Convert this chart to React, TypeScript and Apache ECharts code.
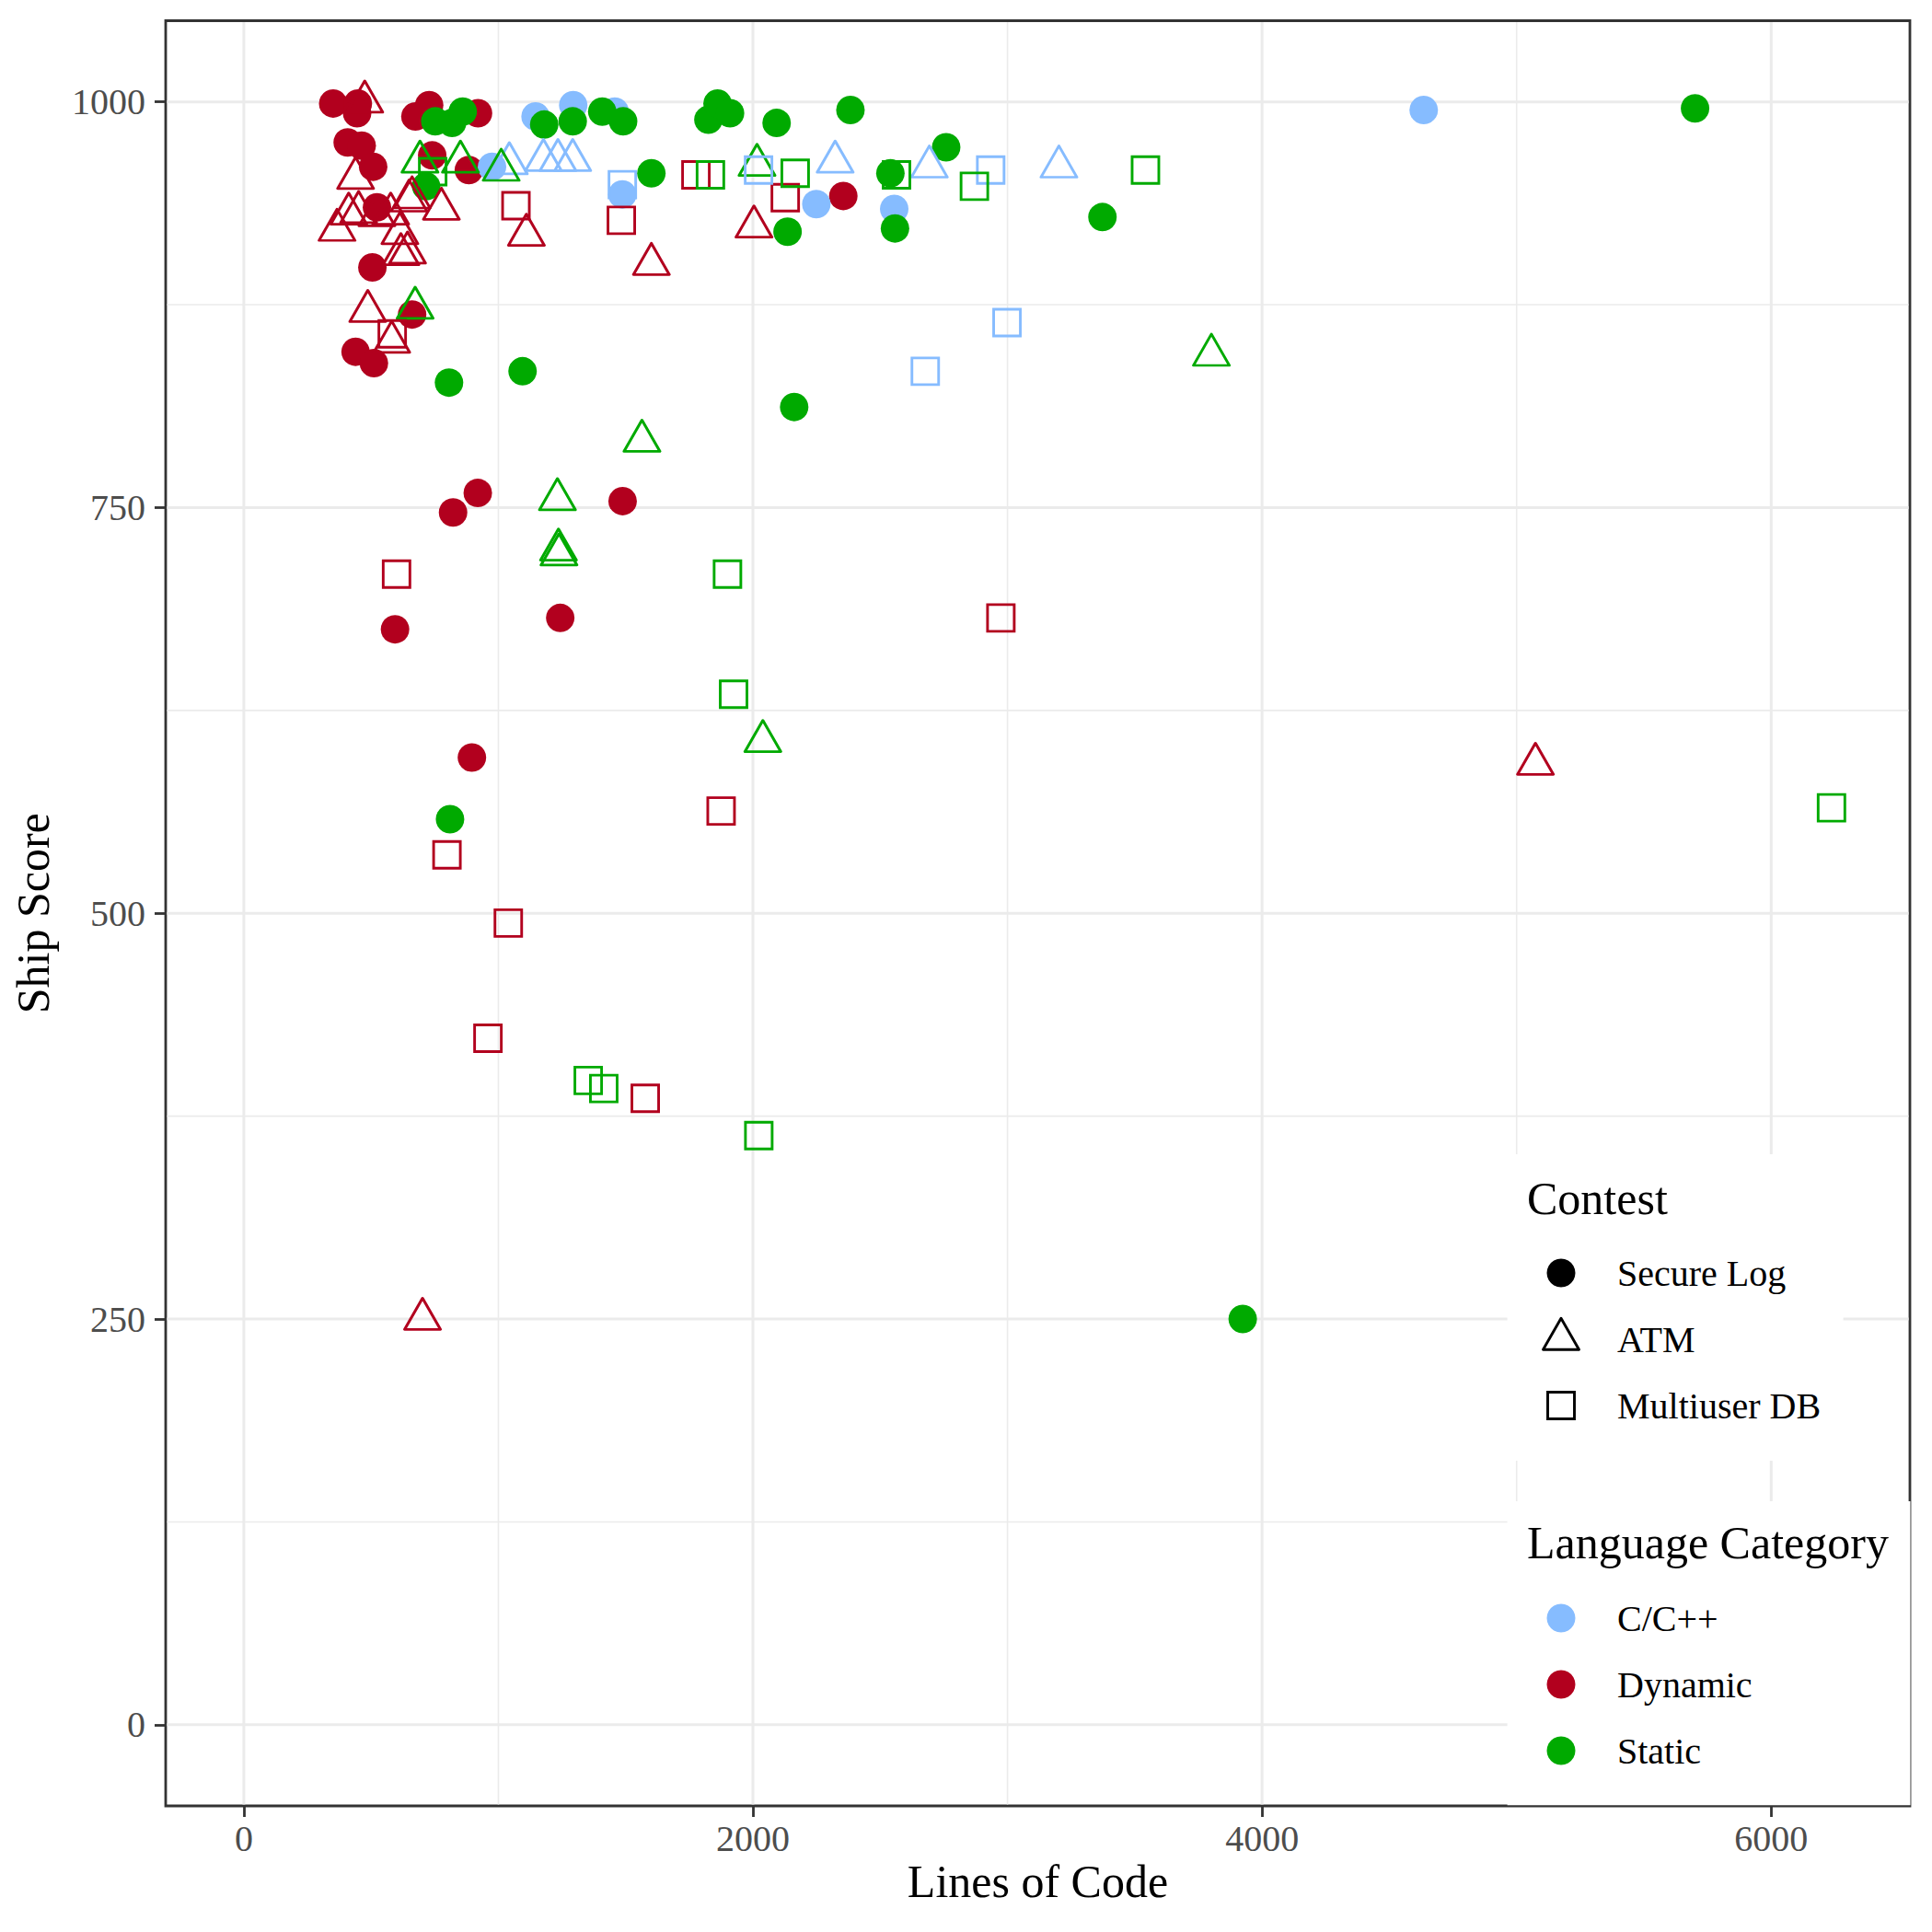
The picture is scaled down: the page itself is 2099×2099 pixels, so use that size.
import React, { useEffect, useRef } from "react";
import * as echarts from "echarts";

// ---------- data (Lines of Code, Ship Score) ----------
const SECURE_LOG_CPP: number[][] = [
  [1146, 991], [1294, 998], [1457, 994], [975, 960], [1487, 943], [2249, 937], [2555, 934], [4635, 995],
];
const SECURE_LOG_DYNAMIC: number[][] = [
  [351, 999], [448, 999], [445, 993], [728, 998], [674, 991], [920, 993], [408, 975], [463, 973],
  [508, 960], [740, 967], [884, 958], [523, 935], [505, 898], [661, 869], [439, 846], [511, 839],
  [2355, 942], [919, 759], [822, 747], [1488, 754], [1243, 682], [594, 675], [896, 596],
];
const SECURE_LOG_STATIC: number[][] = [
  [752, 988], [818, 987], [860, 994], [716, 948], [1180, 986], [1292, 988], [1408, 994], [1490, 988],
  [1601, 956], [1825, 989], [1861, 999], [1910, 993], [2093, 987], [2383, 995], [2759, 972], [2540, 956],
  [2558, 922], [2136, 920], [3373, 929], [2162, 812], [5701, 996], [3924, 250], [1095, 834], [806, 827],
  [810, 558],
];
const ATM_DYNAMIC: number[][] = [
  [475, 1000], [439, 953], [451, 932], [412, 931], [366, 921], [577, 931], [661, 941], [649, 939],
  [776, 934], [613, 919], [617, 906], [643, 907], [523, 930], [487, 871], [581, 852], [1110, 918],
  [1601, 900], [2004, 923], [5074, 592], [702, 250],
];
const ATM_CPP: number[][] = [
  [1043, 962], [1177, 964], [1234, 964], [1292, 964], [2323, 963], [2693, 960], [3202, 960],
];
const ATM_STATIC: number[][] = [
  [692, 963], [851, 963], [1011, 958], [673, 873], [2016, 961], [1564, 791], [1232, 755], [1236, 724],
  [1238, 721], [2039, 606], [3801, 844],
];
const MDB_DYNAMIC: number[][] = [
  [1069, 936], [1483, 927], [1776, 955], [583, 857], [2127, 941], [600, 709], [1875, 563], [798, 536],
  [1039, 494], [959, 423], [1577, 386], [2974, 682],
];
const MDB_CPP: number[][] = [
  [1487, 949], [2022, 958], [2934, 958], [2998, 864], [2677, 834],
];
const MDB_STATIC: number[][] = [
  [742, 957], [1833, 955], [2166, 956], [2564, 955], [2870, 948], [3542, 958], [1900, 709], [1924, 635],
  [1353, 397], [1414, 392], [2023, 363], [6237, 565],
];

// ---------- axes ----------
const X_TICKS = [0, 2000, 4000, 6000];
const X_MINOR = [1000, 3000, 5000];
const Y_TICKS = [0, 250, 500, 750, 1000];
const Y_MINOR = [125, 375, 625, 875];
const X_RANGE = [-307, 6545];
const Y_RANGE = [-50, 1050];

const CONTESTS = ["Secure Log", "ATM", "Multiuser DB"];
const LANGUAGES = ["C/C++", "Dynamic", "Static"];
const COLORS: Record<string, string> = { "C/C++": "#86BCFF", Dynamic: "#B2001E", Static: "#00AA00" };

const FONT = "'Liberation Serif', 'Times New Roman', Times, serif";

function scatter(contest: string, lang: string, data: number[][]) {
  const color = COLORS[lang];
  const base: any = {
    type: "scatter",
    name: contest + " / " + lang,
    data,
    z: 3,
    emphasis: { disabled: true },
  };
  if (contest === "Secure Log") {
    return { ...base, symbol: "circle", symbolSize: 31, itemStyle: { color, borderWidth: 0, opacity: 1 } };
  }
  if (contest === "ATM") {
    return {
      ...base,
      symbol: "triangle",
      symbolSize: [39, 34],
      symbolOffset: [0, -5.7],
      itemStyle: { color: "rgba(0,0,0,0)", borderColor: color, borderWidth: 2.9, borderJoin: "round", opacity: 1 },
    };
  }
  return {
    ...base,
    symbol: "rect",
    symbolSize: 29,
    itemStyle: { color: "rgba(0,0,0,0)", borderColor: color, borderWidth: 2.9, opacity: 1 },
  };
}

const gridLineData = [
  ...X_MINOR.map((v) => [v, 0, 1]),
  ...Y_MINOR.map((v) => [0, v, 3]),
  ...X_TICKS.map((v) => [v, 0, 0]),
  ...Y_TICKS.map((v) => [0, v, 2]),
];

function legendText(text: string, x: number, y: number, size: number) {
  return {
    type: "text",
    z: 101,
    x,
    y,
    style: {
      text,
      fill: "#000000",
      fontSize: size,
      fontFamily: FONT,
      align: "left",
      verticalAlign: "middle",
      textAlign: "left",
      textVerticalAlign: "middle",
    },
  };
}

function buildGraphic() {
  const kx = 1696;
  const lx = 1757;
  const contestRows = [1383, 1455, 1527];
  const langRows = [1758, 1830, 1902];
  const els: any[] = [
    { type: "rect", z: 100, shape: { x: 1637.6, y: 1254, width: 365, height: 333 }, style: { fill: "#ffffff" } },
    { type: "rect", z: 100, shape: { x: 1637.6, y: 1631, width: 437.9, height: 330.2 }, style: { fill: "#ffffff" } },
    legendText("Contest", 1659, 1302, 50),
    legendText("Language Category", 1659, 1676, 50),
    { type: "circle", z: 101, shape: { cx: kx, cy: contestRows[0], r: 15.5 }, style: { fill: "#000000" } },
    {
      type: "polygon",
      z: 101,
      shape: { points: [[kx, contestRows[1] - 22.7], [kx + 19.5, contestRows[1] + 11.3], [kx - 19.5, contestRows[1] + 11.3]] },
      style: { fill: "none", stroke: "#000000", lineWidth: 2.9, lineJoin: "round" },
    },
    {
      type: "rect",
      z: 101,
      shape: { x: kx - 14.5, y: contestRows[2] - 14.5, width: 29, height: 29 },
      style: { fill: "none", stroke: "#000000", lineWidth: 2.9 },
    },
  ];
  CONTESTS.forEach((c, i) => els.push(legendText(c, lx, contestRows[i], 40)));
  LANGUAGES.forEach((l, i) => {
    els.push({ type: "circle", z: 101, shape: { cx: kx, cy: langRows[i], r: 15.5 }, style: { fill: COLORS[l] } });
    els.push(legendText(l, lx, langRows[i], 40));
  });
  return els;
}

const axisLabelStyle = { color: "#4D4D4D", fontSize: 40, fontFamily: FONT };
const tickStyle = { color: "#333333", width: 2.8 };

const option: any = {
  animation: false,
  backgroundColor: "#ffffff",
  grid: {
    left: 180,
    right: 24,
    top: 22.5,
    bottom: 137,
    show: true,
    backgroundColor: "#ffffff",
    borderColor: "#333333",
    borderWidth: 2.8,
    containLabel: false,
    outerBoundsMode: "none",
  },
  xAxis: {
    type: "value",
    min: X_RANGE[0],
    max: X_RANGE[1],
    name: "Lines of Code",
    nameLocation: "middle",
    nameGap: 82,
    nameMoveOverlap: false,
    nameTextStyle: { color: "#000000", fontSize: 50, fontFamily: FONT, verticalAlign: "middle" },
    axisLine: { show: false, onZero: false },
    axisTick: { show: true, length: 12, lineStyle: tickStyle, customValues: X_TICKS },
    axisLabel: { ...axisLabelStyle, margin: 15, customValues: X_TICKS, formatter: (v: number) => String(v) },
    splitLine: { show: false },
    minorTick: { show: false },
  },
  yAxis: {
    type: "value",
    min: Y_RANGE[0],
    max: Y_RANGE[1],
    name: "Ship Score",
    nameLocation: "middle",
    nameGap: 144,
    nameMoveOverlap: false,
    nameTextStyle: { color: "#000000", fontSize: 50, fontFamily: FONT, verticalAlign: "middle" },
    axisLine: { show: false, onZero: false },
    axisTick: { show: true, length: 12, lineStyle: tickStyle, customValues: Y_TICKS },
    axisLabel: { ...axisLabelStyle, margin: 22, customValues: Y_TICKS, formatter: (v: number) => String(v) },
    splitLine: { show: false },
  },
  series: [
    {
      type: "custom",
      name: "grid lines",
      data: gridLineData,
      z: 1,
      silent: true,
      clip: true,
      renderItem: (params: any, api: any) => {
        const cs = params.coordSys;
        const kind = api.value(2);
        const p = api.coord([api.value(0), api.value(1)]);
        const w = kind % 2 === 0 ? 3 : 1.6;
        if (kind < 2) {
          return {
            type: "line",
            shape: { x1: p[0], y1: cs.y + 1.4, x2: p[0], y2: cs.y + cs.height - 1.4 },
            style: { stroke: "#EBEBEB", lineWidth: w },
          };
        }
        return {
          type: "line",
          shape: { x1: cs.x + 1.4, y1: p[1], x2: cs.x + cs.width - 1.4, y2: p[1] },
          style: { stroke: "#EBEBEB", lineWidth: w },
        };
      },
    },
    scatter("Secure Log", "Dynamic", SECURE_LOG_DYNAMIC),
    scatter("Secure Log", "C/C++", SECURE_LOG_CPP),
    scatter("Secure Log", "Static", SECURE_LOG_STATIC),
    scatter("ATM", "Dynamic", ATM_DYNAMIC),
    scatter("ATM", "C/C++", ATM_CPP),
    scatter("ATM", "Static", ATM_STATIC),
    scatter("Multiuser DB", "Dynamic", MDB_DYNAMIC),
    scatter("Multiuser DB", "C/C++", MDB_CPP),
    scatter("Multiuser DB", "Static", MDB_STATIC),
  ],
  graphic: { elements: buildGraphic() },
};

export default function App() {
  const ref = useRef<HTMLDivElement>(null);
  useEffect(() => {
    if (!ref.current) return;
    const chart = echarts.init(ref.current, null, { renderer: "svg", width: 2099, height: 2099 });
    chart.setOption(option);
    return () => chart.dispose();
  }, []);
  return (
    <div
      ref={ref}
      style={{ position: "fixed", left: 0, top: 0, width: 2099, height: 2099, background: "#ffffff" }}
    />
  );
}
